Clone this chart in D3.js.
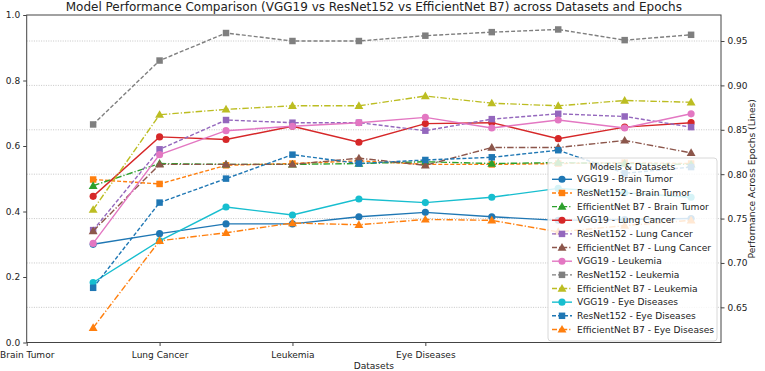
<!DOCTYPE html>
<html>
<head>
<meta charset="utf-8">
<script src="https://cdn.jsdelivr.net/npm/d3@7"></script>
<style>
  body { margin: 0; background: #fff; }
  text { font-family: "DejaVu Sans", sans-serif; fill: #222; }
</style>
</head>
<body>
<div id="chart"></div>
<script>
const datasets = ["Brain Tumor", "Lung Cancer", "Leukemia", "Eye Diseases"];
const models = ["VGG19", "ResNet152", "EfficientNet B7"];
const epochPos = [0.5, 1.0, 1.5, 2.0, 2.5, 3.0, 3.5, 4.0, 4.5, 5.0];
const leftTicks = [0.0, 0.2, 0.4, 0.6, 0.8, 1.0];
const rightTicks = [0.65, 0.70, 0.75, 0.80, 0.85, 0.90, 0.95];

const vggBrain   = [0.721, 0.733, 0.744, 0.744, 0.752, 0.757, 0.752, 0.748, 0.749, 0.750];
const resBrain   = [0.794, 0.789, 0.810, 0.812, 0.815, 0.811, 0.811, 0.812, 0.813, 0.812];
const effBrain   = [0.787, 0.812, 0.811, 0.811, 0.812, 0.814, 0.812, 0.813, 0.812, 0.811];
const vggLung    = [0.775, 0.842, 0.839, 0.854, 0.836, 0.857, 0.858, 0.840, 0.853, 0.858];
const resLung    = [0.737, 0.828, 0.861, 0.858, 0.858, 0.849, 0.862, 0.868, 0.865, 0.853];
const effLung    = [0.736, 0.811, 0.811, 0.811, 0.818, 0.810, 0.830, 0.830, 0.838, 0.824];
const vggLeuk    = [0.722, 0.822, 0.849, 0.854, 0.858, 0.864, 0.852, 0.861, 0.852, 0.868];
const resLeuk    = [0.856, 0.928, 0.959, 0.950, 0.950, 0.956, 0.960, 0.963, 0.951, 0.957];
const effLeuk    = [0.760, 0.867, 0.873, 0.877, 0.877, 0.888, 0.880, 0.877, 0.883, 0.881];
const vggEye     = [0.678, 0.725, 0.763, 0.754, 0.772, 0.768, 0.774, 0.784, 0.779, 0.774];
const resEye     = [0.672, 0.768, 0.795, 0.822, 0.812, 0.816, 0.819, 0.827, 0.801, 0.808];
const effEye     = [0.627, 0.725, 0.734, 0.745, 0.743, 0.749, 0.748, 0.735, 0.742, 0.748];

const seriesValues = [vggBrain, resBrain, effBrain, vggLung, resLung, effLung,
                      vggLeuk, resLeuk, effLeuk, vggEye, resEye, effEye];
const colors = ["#1f77b4", "#ff7f0e", "#2ca02c", "#d62728", "#9467bd", "#8c564b",
                "#e377c2", "#7f7f7f", "#bcbd22", "#17becf", "#1f77b4", "#ff7f0e"];

const series = [];
datasets.forEach((ds, di) => {
    models.forEach((m, mi) => {
        const idx = di * 3 + mi;
        series.push({
            name: m + " - " + ds,
            model: mi,
            color: colors[idx],
            values: seriesValues[idx]
        });
    });
});

const svgWidth = 765, svgHeight = 371;
const margin = { top: 15, right: 44, bottom: 28.5, left: 26.7 };
const w = svgWidth - margin.left - margin.right;
const h = svgHeight - margin.top - margin.bottom;

const svg = d3.select("#chart").append("svg")
    .attr("width", svgWidth)
    .attr("height", svgHeight);

const g = svg.append("g")
    .attr("transform", `translate(${margin.left},${margin.top})`);

const x = d3.scaleLinear().domain([0, 5.225]).range([0, w]);
const yLeft = d3.scaleLinear().domain([0, 1]).range([h, 0]);
const yRight = d3.scaleLinear().domain([0.6104, 0.9793]).range([h, 0]);

// dotted grid from the right axis
g.append("g")
    .selectAll("line")
    .data(rightTicks)
    .enter()
    .append("line")
    .attr("x1", 0)
    .attr("x2", w)
    .attr("y1", d => yRight(d))
    .attr("y2", d => yRight(d))
    .attr("stroke", "#b8b8b8")
    .attr("stroke-width", 0.8)
    .attr("stroke-dasharray", "1,1.4");

const dashes = ["none", "4,2", "6.5,2,1.2,2"];
const line = d3.line()
    .x((d, i) => x(epochPos[i]))
    .y(d => yRight(d));

const symbols = [d3.symbolCircle, d3.symbolSquare, d3.symbolTriangle];
const symbolSizes = [40, 42, 34];

const lines = g.append("g");
series.forEach(s => {
    lines.append("path")
        .datum(s.values)
        .attr("d", line)
        .attr("fill", "none")
        .attr("stroke", s.color)
        .attr("stroke-width", 1.4)
        .attr("stroke-dasharray", dashes[s.model]);
    lines.selectAll(null)
        .data(s.values)
        .enter()
        .append("path")
        .attr("transform", (d, i) => `translate(${x(epochPos[i])},${yRight(d) + (s.model === 2 ? 0.6 : 0)})`)
        .attr("d", d3.symbol().type(symbols[s.model]).size(symbolSizes[s.model]))
        .attr("fill", s.color);
});

// axes
const xAxis = g.append("g")
    .attr("transform", `translate(0,${h})`)
    .call(d3.axisBottom(x).tickValues([0, 1, 2, 3]).tickFormat(d => datasets[d]).tickSizeOuter(0).tickSize(3.5));
const leftAxis = g.append("g")
    .call(d3.axisLeft(yLeft).tickValues(leftTicks).tickFormat(d3.format(".1f")).tickSizeOuter(0).tickSize(3.5));
const rightAxis = g.append("g")
    .attr("transform", `translate(${w},0)`)
    .call(d3.axisRight(yRight).tickValues(rightTicks).tickFormat(d3.format(".2f")).tickSizeOuter(0).tickSize(3.5));

[xAxis, leftAxis, rightAxis].forEach(a => {
    a.selectAll("text").style("font-size", "9px").style("font-family", "DejaVu Sans").attr("fill", "#222");
    a.selectAll("line").attr("stroke", "#444");
    a.select(".domain").remove();
});
xAxis.selectAll("text").attr("dy", "1em");

g.append("rect")
    .attr("width", w)
    .attr("height", h)
    .attr("fill", "none")
    .attr("stroke", "#444")
    .attr("stroke-width", 1);

// legend
const lx = 548, ly = 158, lw = 169, lh = 183;
const legend = svg.append("g");
legend.append("rect")
    .attr("x", lx)
    .attr("y", ly)
    .attr("width", lw)
    .attr("height", lh)
    .attr("rx", 3)
    .attr("fill", "#fff")
    .attr("fill-opacity", 0.82)
    .attr("stroke", "#d8d8d8");
legend.append("text")
    .attr("x", lx + lw / 2)
    .attr("y", ly + 11.5)
    .attr("text-anchor", "middle")
    .style("font-size", "9.1px")
    .text("Models & Datasets");
series.forEach((s, i) => {
    const yy = 179.3 + i * 13.65;
    legend.append("line")
        .attr("x1", 552)
        .attr("x2", 572)
        .attr("y1", yy)
        .attr("y2", yy)
        .attr("stroke", s.color)
        .attr("stroke-width", 1.4)
        .attr("stroke-dasharray", s.model === 0 ? "none" : (s.model === 1 ? "4,2" : "5,2,1.2,2"));
    legend.append("path")
        .attr("transform", `translate(562,${yy + (s.model === 2 ? 0.6 : 0)})`)
        .attr("d", d3.symbol().type(symbols[s.model]).size(symbolSizes[s.model]))
        .attr("fill", s.color);
    legend.append("text")
        .attr("x", 577)
        .attr("y", yy)
        .attr("dy", "0.35em")
        .style("font-size", "9.1px")
        .text(s.name);
});

// titles
svg.append("text")
    .attr("x", margin.left + w / 2)
    .attr("y", 10.5)
    .attr("text-anchor", "middle")
    .style("font-size", "12px")
    .text("Model Performance Comparison (VGG19 vs ResNet152 vs EfficientNet B7) across Datasets and Epochs");

svg.append("text")
    .attr("x", margin.left + w / 2)
    .attr("y", 369)
    .attr("text-anchor", "middle")
    .style("font-size", "9.1px")
    .text("Datasets");

svg.append("text")
    .attr("transform", `translate(755,${margin.top + h / 2}) rotate(-90)`)
    .attr("text-anchor", "middle")
    .style("font-size", "9.1px")
    .text("Performance Across Epochs (Lines)");
</script>
</body>
</html>
